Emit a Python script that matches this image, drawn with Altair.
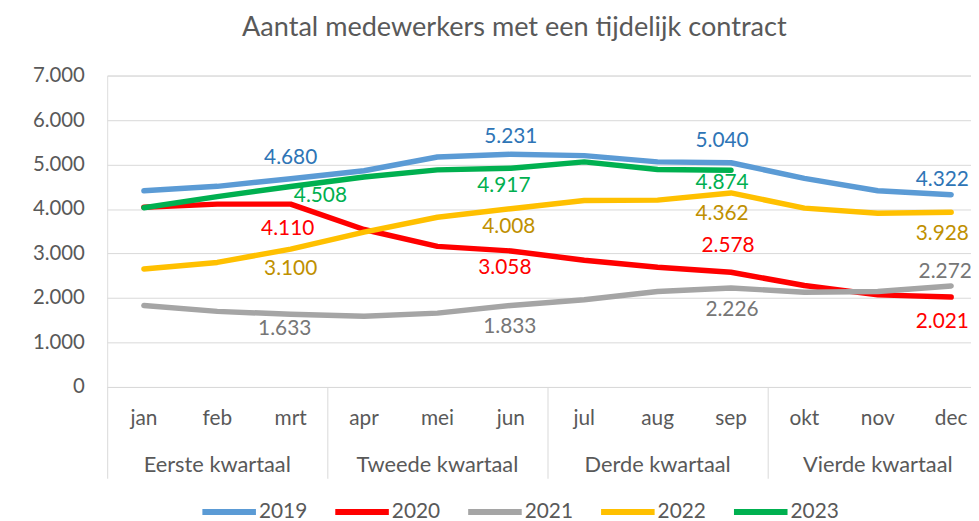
import altair as alt
import pandas as pd

months = ["jan", "feb", "mrt", "apr", "mei", "jun", "jul", "aug", "sep", "okt", "nov", "dec"]
quarters = ["Eerste kwartaal", "Tweede kwartaal", "Derde kwartaal", "Vierde kwartaal"]
years = ["2019", "2020", "2021", "2022", "2023"]

v2019 = [4410, 4510, 4680, 4860, 5170, 5231, 5200, 5060, 5040, 4690, 4410, 4322]
v2020 = [4040, 4110, 4110, 3540, 3160, 3058, 2850, 2690, 2578, 2280, 2070, 2021]
v2021 = [1830, 1700, 1633, 1590, 1660, 1833, 1960, 2145, 2226, 2130, 2145, 2272]
v2022 = [2650, 2800, 3100, 3480, 3815, 4008, 4190, 4200, 4362, 4020, 3905, 3928]
v2023 = [4030, 4280, 4508, 4720, 4880, 4917, 5060, 4890, 4874, None, None, None]

series = {"2019": v2019, "2020": v2020, "2021": v2021, "2022": v2022, "2023": v2023}

# styles
line_colors = ["#5B9BD5", "#FF0000", "#A5A5A5", "#FFC000", "#00B050"]
label_colors = {"2019": "#2E75B6", "2020": "#FF0000", "2021": "#767676", "2022": "#BF9000", "2023": "#00B050"}
label_offsets = {
    ("2019", "mrt"): (0, -21), ("2019", "jun"): (0, -17), ("2019", "sep"): (-9, -22), ("2019", "dec"): (-9, -15),
    ("2020", "mrt"): (-3, 25), ("2020", "jun"): (-6, 17), ("2020", "sep"): (-3, -26), ("2020", "dec"): (-9, 25),
    ("2021", "mrt"): (-6, 15), ("2021", "jun"): (-1, 22), ("2021", "sep"): (1, 22), ("2021", "dec"): (-6, -14),
    ("2022", "mrt"): (0, 20), ("2022", "jun"): (-2, 19), ("2022", "sep"): (-9, 21), ("2022", "dec"): (-9, 22),
    ("2023", "mrt"): (30, 10), ("2023", "jun"): (-7, 18), ("2023", "sep"): (-9, 13),
}

FONT = "Lato"
TXT = "#595959"
GRID = "#D9D9D9"
STEP = 74          # pixels per month
W, H = 871, 314    # plot area (runs off the right edge like the original)

rows = []
for y in years:
    for i, m in enumerate(months):
        v = series[y][i]
        if v is None:
            continue
        rows.append({"year": y, "month": m, "pos": i + 0.5, "value": v,
                     "label": f"{v:,}".replace(",", ".")})
df = pd.DataFrame(rows)

mdf = pd.DataFrame({"month": months, "pos": [i + 0.5 for i in range(12)]})
qdf = pd.DataFrame({"q": quarters, "pos": [i * 3 + 1.5 for i in range(4)]})

xscale = alt.Scale(domain=[0, W / STEP], nice=False, zero=False)
yscale = alt.Scale(domain=[0, 7000], nice=False)

base = alt.Chart(df)

lines = base.mark_line(strokeWidth=5.5, strokeCap="round", strokeJoin="round").encode(
    x=alt.X("pos:Q", scale=xscale,
            axis=alt.Axis(values=[0, 3, 6, 9, 12], labels=False, title=None, grid=False,
                          tickSize=92, tickColor=GRID, domainColor=GRID, tickWidth=1, domainWidth=1)),
    y=alt.Y("value:Q", scale=yscale,
            axis=alt.Axis(values=list(range(0, 7001, 1000)), title=None, domain=False, ticks=False,
                          gridColor=GRID, gridWidth=1, labelFontSize=20.5, labelColor=TXT, labelFont=FONT,
                          labelPadding=23,
                          labelExpr="replace(format(datum.value, ','), ',', '.')")),
    color=alt.Color("year:N", scale=alt.Scale(domain=years, range=line_colors),
                    legend=alt.Legend(title=None, orient="none", direction="horizontal",
                                      legendX=93, legendY=410, symbolType="stroke",
                                      symbolSize=2916, symbolStrokeWidth=6, labelFontSize=21,
                                      labelFont=FONT, labelColor=TXT, labelOffset=0,
                                      columnPadding=16, symbolOffset=0, padding=0)),
    order=alt.Order("pos:Q"),
)

layers = [lines]
for (yr, m), (dx, dy) in label_offsets.items():
    layers.append(
        base.transform_filter((alt.datum.year == yr) & (alt.datum.month == m))
        .mark_text(fontSize=21, font=FONT, color=label_colors[yr], dx=dx, dy=dy, baseline="middle")
        .encode(x=alt.X("pos:Q", scale=xscale), y=alt.Y("value:Q", scale=yscale), text="label:N")
    )

month_text = alt.Chart(mdf).mark_text(fontSize=21, font=FONT, color=TXT, baseline="middle").encode(
    x=alt.X("pos:Q", scale=xscale), y=alt.value(H + 32), text="month:N")
quarter_text = alt.Chart(qdf).mark_text(fontSize=22, font=FONT, color=TXT, baseline="middle").encode(
    x=alt.X("pos:Q", scale=xscale), y=alt.value(H + 79), text="q:N")
layers += [month_text, quarter_text]

chart = alt.layer(*layers).properties(
    width=W, height=H,
    autosize=alt.AutoSizeParams(type="none"),
    padding={"left": 100, "top": 66, "right": 0, "bottom": 133},
    title=alt.TitleParams(text="Aantal medewerkers met een tijdelijk contract", fontSize=27.3, font=FONT,
                          color=TXT, fontWeight="normal", anchor="middle", frame="group", dx=-25,
                          offset=25),
).configure_view(stroke=None).configure(font=FONT)

chart.save("out.html", embed_options={"renderer": "svg", "actions": False})
